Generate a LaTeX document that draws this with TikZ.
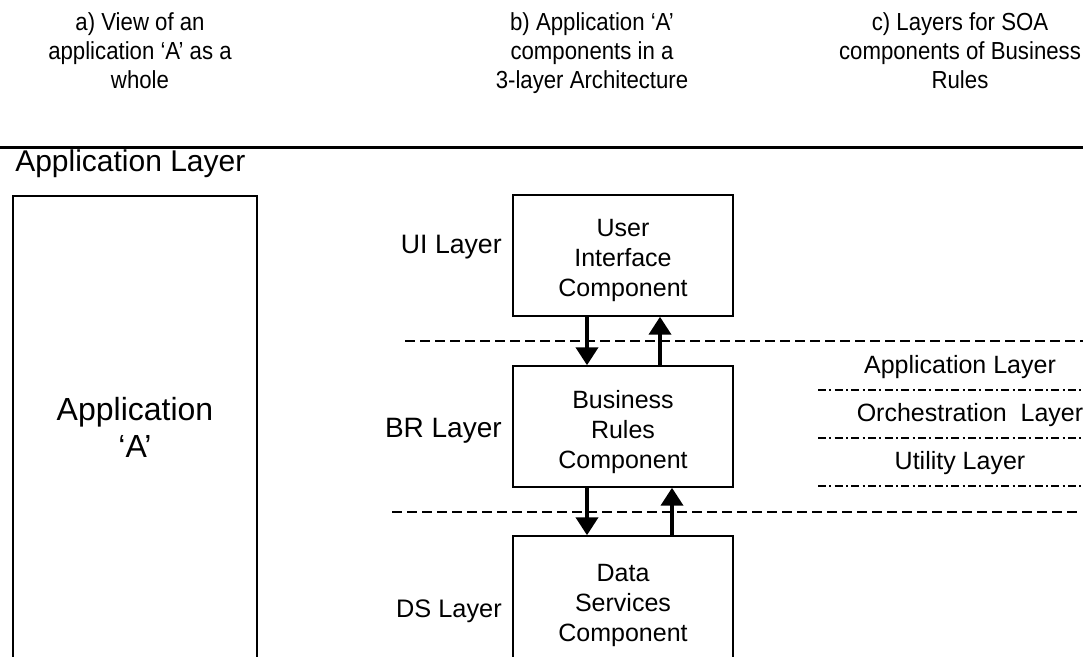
\documentclass[tikz,border=0pt]{standalone}
\usepackage{fontspec}
\setmainfont{Liberation Sans}
\newfontfamily\headfont[FakeStretch=0.9]{Liberation Sans}
\usetikzlibrary{positioning,arrows.meta}

\tikzset{
  compbox/.style={draw, line width=1.1pt, minimum width=165pt, minimum height=90.75pt, inner sep=0pt},
  comptext/.style={align=center, inner sep=0pt, font=\fontsize{18.75pt}{22.5pt}\selectfont},
  headtext/.style={anchor=north, align=center, inner sep=0pt, font=\headfont\fontsize{18.5pt}{21.75pt}\selectfont},
  layerlbl/.style={anchor=east, inner sep=0pt, font=\fontsize{20pt}{24pt}\selectfont},
  soalbl/.style={inner sep=0pt, font=\fontsize{18.75pt}{22pt}\selectfont},
  flow/.style={line width=3pt, -{Triangle[width=16.5pt,length=13.5pt]}},
  sepline/.style={line width=1.1pt, dash pattern=on 7.5pt off 3.75pt},
  soaline/.style={line width=0.9pt, dash pattern=on 6pt off 2.5pt on 1.5pt off 2.5pt}
}

\begin{document}
\begin{tikzpicture}[x=0.75pt,y=0.75pt,yscale=-1,xscale=1]
\useasboundingbox (0,0) rectangle (1083,657);
\clip (0,0) rectangle (1083,657);

%Headers
\node[headtext] (heada) at (140,12) {a) View of an\\application ‘A’ as a\\whole};
\node[headtext] (headb) at (592,12) {b) Application ‘A’\\components in a\\3-layer Architecture};
\node[headtext] (headc) at (960,12) {c) Layers for SOA\\components of Business\\Rules};
%Straight Lines
\draw[line width=2.25pt] (0,147) -- (1083,147);

\node[anchor=west, inner sep=0pt, font=\fontsize{22.5pt}{24pt}\selectfont] (applayer) at (15,164) {Application Layer};

%a) whole application
\node[draw, line width=1.1pt, minimum width=183pt, minimum height=351.75pt, inner sep=0pt] (app) at (135,430.5) {};
\node[align=center, inner sep=0pt, font=\fontsize{24pt}{27.75pt}\selectfont] (apptext) at (135,427) {Application\\‘A’};

%b) three components
\node[compbox] (ui) at (623,255.5) {};
\node[compbox] (br) at (623,426.5) {};
\node[compbox, minimum height=100.5pt] (ds) at (623,603) {};
\node[comptext] (uitext) at (623,260.5) {User\\Interface\\Component};
\node[comptext] (brtext) at (623,432.5) {Business\\Rules\\Component};
\node[comptext] (dstext) at (623,605.5) {Data\\Services\\Component};

\node[layerlbl] (uilbl) at (502,247) {UI Layer};
\node[layerlbl, font=\fontsize{21pt}{24pt}\selectfont] (brlbl) at (502,431) {BR Layer};
\node[layerlbl, font=\fontsize{19pt}{24pt}\selectfont] (dslbl) at (502,611) {DS Layer};

%Arrows
\draw[flow] ([xshift=-27pt]ui.south) -- ([xshift=-27pt]br.north);
\draw[flow] ([xshift=27.75pt]br.north) -- ([xshift=27.75pt]ui.south);
\draw[flow] ([xshift=-27pt]br.south) -- ([xshift=-27pt]ds.north);
\draw[flow] ([xshift=36.75pt]ds.north) -- ([xshift=36.75pt]br.south);

%Dashed Lines
\draw[sepline] (405,341) -- (1083,341);
\draw[sepline] (392,512) -- (1078,512);

%c) SOA layers
\node[soalbl] (soaapp) at (960,367) {Application Layer};
\node[soalbl] (soaorch) at (970,415) {Orchestration\ \ Layer};
\node[soalbl] (soautil) at (960,463) {Utility Layer};
\draw[soaline] (818,390) -- (1083,390);
\draw[soaline] (818,438) -- (1083,438);
\draw[soaline] (818,486) -- (1083,486);

\end{tikzpicture}
\end{document}
